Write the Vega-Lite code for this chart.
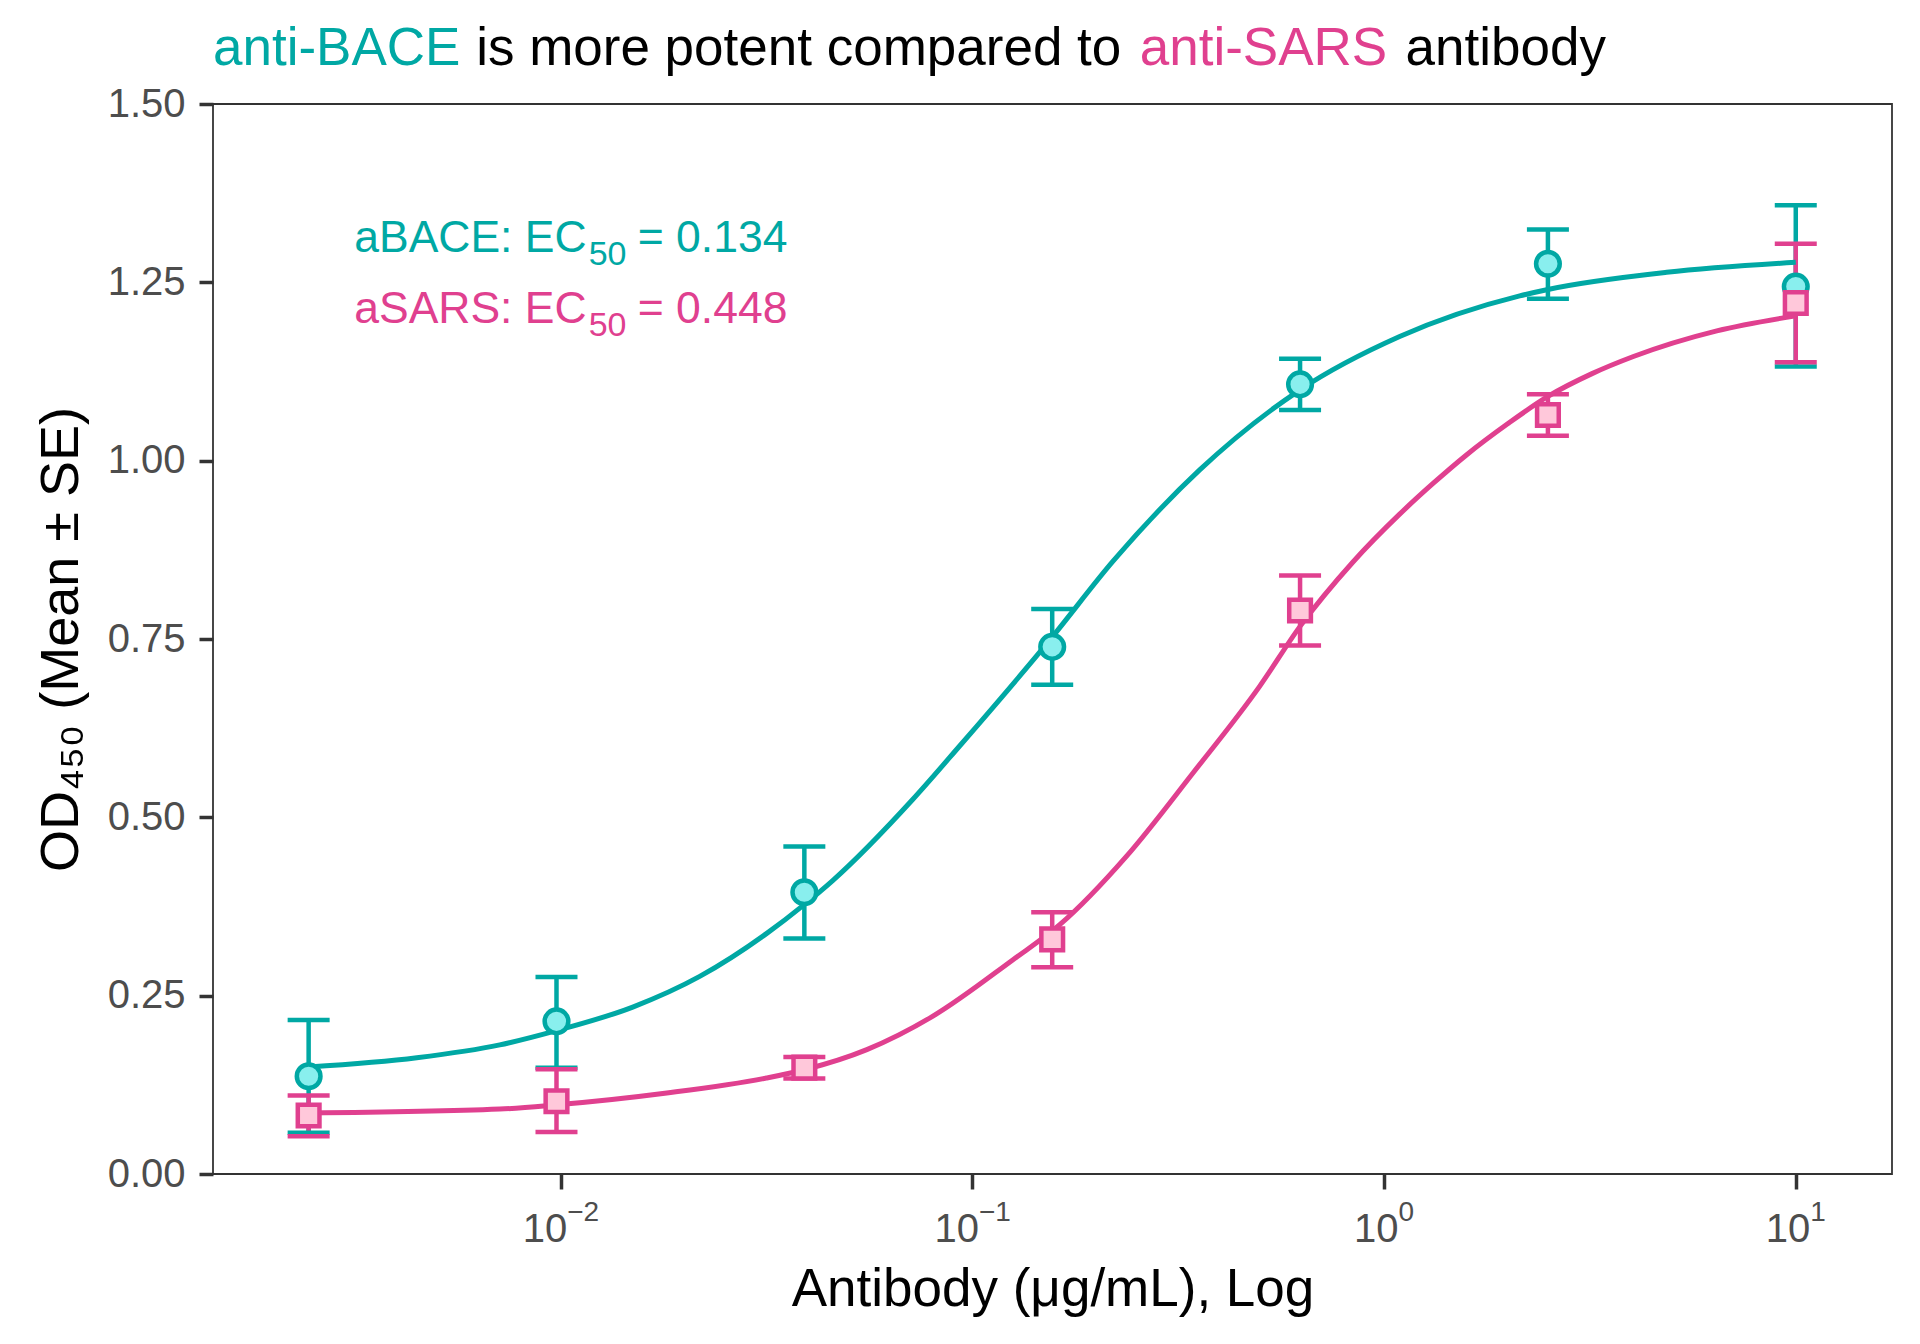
{
  "$schema": "https://vega.github.io/schema/vega-lite/v6.json",
  "width": 1679,
  "height": 1070,
  "autosize": "none",
  "padding": {"left": 213, "top": 104, "right": 28, "bottom": 170},
  "background": "white",
  "datasets": {
    "points": [
      {"conc": 0.00244140625, "antibody": "aBACE", "mean": 0.137, "lower": 0.058, "upper": 0.216},
      {"conc": 0.009765625, "antibody": "aBACE", "mean": 0.214, "lower": 0.149, "upper": 0.276},
      {"conc": 0.0390625, "antibody": "aBACE", "mean": 0.395, "lower": 0.330, "upper": 0.459},
      {"conc": 0.15625, "antibody": "aBACE", "mean": 0.739, "lower": 0.686, "upper": 0.792},
      {"conc": 0.625, "antibody": "aBACE", "mean": 1.107, "lower": 1.071, "upper": 1.143},
      {"conc": 2.5, "antibody": "aBACE", "mean": 1.276, "lower": 1.227, "upper": 1.324},
      {"conc": 10, "antibody": "aBACE", "mean": 1.244, "lower": 1.132, "upper": 1.358},
      {"conc": 0.00244140625, "antibody": "aSARS", "mean": 0.082, "lower": 0.053, "upper": 0.110},
      {"conc": 0.009765625, "antibody": "aSARS", "mean": 0.102, "lower": 0.059, "upper": 0.147},
      {"conc": 0.0390625, "antibody": "aSARS", "mean": 0.149, "lower": 0.134, "upper": 0.164},
      {"conc": 0.15625, "antibody": "aSARS", "mean": 0.329, "lower": 0.290, "upper": 0.367},
      {"conc": 0.625, "antibody": "aSARS", "mean": 0.790, "lower": 0.741, "upper": 0.839},
      {"conc": 2.5, "antibody": "aSARS", "mean": 1.064, "lower": 1.035, "upper": 1.093},
      {"conc": 10, "antibody": "aSARS", "mean": 1.221, "lower": 1.138, "upper": 1.304}
    ],
    "curves": [
      {"conc": 0.00244, "antibody": "aBACE", "od": 0.150},
      {"conc": 0.00447, "antibody": "aBACE", "od": 0.163},
      {"conc": 0.00711, "antibody": "aBACE", "od": 0.181},
      {"conc": 0.00977, "antibody": "aBACE", "od": 0.201},
      {"conc": 0.01496, "antibody": "aBACE", "od": 0.234},
      {"conc": 0.02176, "antibody": "aBACE", "od": 0.277},
      {"conc": 0.0316, "antibody": "aBACE", "od": 0.337},
      {"conc": 0.0391, "antibody": "aBACE", "od": 0.378},
      {"conc": 0.0457, "antibody": "aBACE", "od": 0.411},
      {"conc": 0.0716, "antibody": "aBACE", "od": 0.525},
      {"conc": 0.0931, "antibody": "aBACE", "od": 0.600},
      {"conc": 0.1564, "antibody": "aBACE", "od": 0.753},
      {"conc": 0.2196, "antibody": "aBACE", "od": 0.859},
      {"conc": 0.3565, "antibody": "aBACE", "od": 0.987},
      {"conc": 0.6237, "antibody": "aBACE", "od": 1.099},
      {"conc": 1.091, "antibody": "aBACE", "od": 1.174},
      {"conc": 2.135, "antibody": "aBACE", "od": 1.231},
      {"conc": 2.5, "antibody": "aBACE", "od": 1.240},
      {"conc": 4.857, "antibody": "aBACE", "od": 1.264},
      {"conc": 10, "antibody": "aBACE", "od": 1.278},
      {"conc": 0.00244, "antibody": "aSARS", "od": 0.0855},
      {"conc": 0.00711, "antibody": "aSARS", "od": 0.091},
      {"conc": 0.00977, "antibody": "aSARS", "od": 0.097},
      {"conc": 0.0181, "antibody": "aSARS", "od": 0.1136},
      {"conc": 0.0316, "antibody": "aSARS", "od": 0.1346},
      {"conc": 0.0391, "antibody": "aSARS", "od": 0.1462},
      {"conc": 0.0554, "antibody": "aSARS", "od": 0.1743},
      {"conc": 0.08, "antibody": "aSARS", "od": 0.2209},
      {"conc": 0.1255, "antibody": "aSARS", "od": 0.3004},
      {"conc": 0.163, "antibody": "aSARS", "od": 0.3495},
      {"conc": 0.2366, "antibody": "aSARS", "od": 0.4453},
      {"conc": 0.3434, "antibody": "aSARS", "od": 0.5622},
      {"conc": 0.4985, "antibody": "aSARS", "od": 0.6836},
      {"conc": 0.625, "antibody": "aSARS", "od": 0.7677},
      {"conc": 0.8403, "antibody": "aSARS", "od": 0.858},
      {"conc": 1.091, "antibody": "aSARS", "od": 0.925},
      {"conc": 1.315, "antibody": "aSARS", "od": 0.968},
      {"conc": 1.585, "antibody": "aSARS", "od": 1.008},
      {"conc": 2.0, "antibody": "aSARS", "od": 1.052},
      {"conc": 2.5, "antibody": "aSARS", "od": 1.090},
      {"conc": 3.2, "antibody": "aSARS", "od": 1.122},
      {"conc": 4.033, "antibody": "aSARS", "od": 1.146},
      {"conc": 6.43, "antibody": "aSARS", "od": 1.182},
      {"conc": 10, "antibody": "aSARS", "od": 1.203}
    ]
  },
  "encoding": {
    "x": {
      "type": "quantitative",
      "scale": {"type": "log", "domain": [0.00143, 17.13], "nice": false},
      "axis": null
    },
    "y": {
      "type": "quantitative",
      "scale": {"domain": [0, 1.5], "nice": false, "zero": false},
      "axis": {
        "values": [0, 0.25, 0.5, 0.75, 1, 1.25, 1.5],
        "format": ".2f",
        "tickSize": 14,
        "labelPadding": 14,
        "title": "OD₄₅₀ (Mean ± SE)",
        "titleFontSize": 54,
        "titleX": -136,
        "titleBaseline": "alphabetic"
      }
    }
  },
  "layer": [
    {
      "data": {"name": "points"},
      "mark": {"type": "rule", "strokeWidth": 4.5},
      "encoding": {
        "x": {
          "field": "conc",
          "axis": {
            "orient": "bottom",
            "values": [0.01, 0.1, 1, 10],
            "labelExpr": "'10'",
            "labelAlign": "right",
            "labelOffset": {"condition": {"test": "datum.value < 0.5", "value": 6}, "value": 14},
            "labelBaseline": "alphabetic",
            "labelFlush": false,
            "labelPadding": 52,
            "tickSize": 15,
            "title": "Antibody (μg/mL), Log",
            "titleY": 131.4,
            "titleBaseline": "alphabetic"
          }
        },
        "y": {"field": "lower"},
        "y2": {"field": "upper"},
        "color": {"field": "antibody", "type": "nominal", "scale": {"domain": ["aBACE", "aSARS"], "range": ["#00A8A4", "#E0408F"]}, "legend": null}
      }
    },
    {
      "data": {"name": "points"},
      "mark": {"type": "tick", "orient": "horizontal", "size": 42, "thickness": 4.5, "opacity": 1},
      "encoding": {
        "x": {
          "field": "conc",
          "axis": {
            "orient": "bottom",
            "values": [0.01, 0.1, 1, 10],
            "labelExpr": "datum.value < 0.05 ? '−2' : datum.value < 0.5 ? '−1' : datum.value < 5 ? '0' : '1'",
            "labelAlign": "left",
            "labelOffset": {"condition": {"test": "datum.value < 0.5", "value": 6}, "value": 14},
            "labelBaseline": "alphabetic",
            "labelFontSize": 28,
            "labelFlush": false,
            "labelPadding": 46,
            "ticks": false,
            "title": null
          }
        },
        "y": {"field": "lower"},
        "color": {"field": "antibody", "type": "nominal", "legend": null}
      }
    },
    {
      "data": {"name": "points"},
      "mark": {"type": "tick", "orient": "horizontal", "size": 42, "thickness": 4.5, "opacity": 1},
      "encoding": {
        "x": {"field": "conc"},
        "y": {"field": "upper"},
        "color": {"field": "antibody", "type": "nominal", "legend": null}
      }
    },
    {
      "data": {"name": "curves"},
      "mark": {"type": "line", "strokeWidth": 5, "interpolate": "monotone"},
      "encoding": {
        "x": {"field": "conc"},
        "y": {"field": "od"},
        "color": {"field": "antibody", "type": "nominal", "legend": null}
      }
    },
    {
      "data": {"name": "points"},
      "mark": {"type": "point", "strokeWidth": 4.5, "opacity": 1, "filled": false},
      "encoding": {
        "x": {"field": "conc"},
        "y": {"field": "mean"},
        "shape": {"field": "antibody", "type": "nominal", "scale": {"domain": ["aBACE", "aSARS"], "range": ["circle", "square"]}, "legend": null},
        "size": {"field": "antibody", "type": "nominal", "scale": {"domain": ["aBACE", "aSARS"], "range": [560, 470]}, "legend": null},
        "stroke": {"field": "antibody", "type": "nominal", "scale": {"domain": ["aBACE", "aSARS"], "range": ["#00A8A4", "#E0408F"]}, "legend": null},
        "fill": {"field": "antibody", "type": "nominal", "scale": {"domain": ["aBACE", "aSARS"], "range": ["#89EFEE", "#FFC8DA"]}, "legend": null}
      }
    },
    {
      "data": {"values": [{}]},
      "mark": {"type": "text", "align": "left", "baseline": "alphabetic", "fontSize": 44.5, "color": "#00A8A4"},
      "encoding": {"x": {"datum": 0.00315}, "y": {"datum": 1.2926}, "text": {"value": "aBACE: EC"}}
    },
    {
      "data": {"values": [{}]},
      "mark": {"type": "text", "align": "left", "baseline": "alphabetic", "fontSize": 34, "color": "#00A8A4"},
      "encoding": {"x": {"datum": 0.01169}, "y": {"datum": 1.2748}, "text": {"value": "50"}}
    },
    {
      "data": {"values": [{}]},
      "mark": {"type": "text", "align": "left", "baseline": "alphabetic", "fontSize": 44.5, "color": "#00A8A4"},
      "encoding": {"x": {"datum": 0.01538}, "y": {"datum": 1.2926}, "text": {"value": "= 0.134"}}
    },
    {
      "data": {"values": [{}]},
      "mark": {"type": "text", "align": "left", "baseline": "alphabetic", "fontSize": 44.5, "color": "#E0408F"},
      "encoding": {"x": {"datum": 0.00315}, "y": {"datum": 1.193}, "text": {"value": "aSARS: EC"}}
    },
    {
      "data": {"values": [{}]},
      "mark": {"type": "text", "align": "left", "baseline": "alphabetic", "fontSize": 34, "color": "#E0408F"},
      "encoding": {"x": {"datum": 0.01169}, "y": {"datum": 1.1752}, "text": {"value": "50"}}
    },
    {
      "data": {"values": [{}]},
      "mark": {"type": "text", "align": "left", "baseline": "alphabetic", "fontSize": 44.5, "color": "#E0408F"},
      "encoding": {"x": {"datum": 0.01538}, "y": {"datum": 1.193}, "text": {"value": "= 0.448"}}
    },
    {
      "data": {"values": [{}]},
      "mark": {"type": "text", "align": "left", "baseline": "alphabetic", "fontSize": 53, "color": "#00A8A4"},
      "encoding": {"x": {"datum": 0.00143}, "y": {"datum": 1.5552}, "text": {"value": "anti-BACE"}}
    },
    {
      "data": {"values": [{}]},
      "mark": {"type": "text", "align": "left", "baseline": "alphabetic", "fontSize": 53, "color": "black"},
      "encoding": {"x": {"datum": 0.00623}, "y": {"datum": 1.5552}, "text": {"value": "is more potent compared to"}}
    },
    {
      "data": {"values": [{}]},
      "mark": {"type": "text", "align": "left", "baseline": "alphabetic", "fontSize": 53, "color": "#E0408F"},
      "encoding": {"x": {"datum": 0.2549}, "y": {"datum": 1.5552}, "text": {"value": "anti-SARS"}}
    },
    {
      "data": {"values": [{}]},
      "mark": {"type": "text", "align": "left", "baseline": "alphabetic", "fontSize": 53, "color": "black"},
      "encoding": {"x": {"datum": 1.128}, "y": {"datum": 1.5552}, "text": {"value": "antibody"}}
    }
  ],
  "resolve": {"axis": {"x": "independent"}},
  "config": {
    "font": "Liberation Sans",
    "view": {"stroke": "#333333", "strokeWidth": 1.8},
    "axis": {
      "grid": false,
      "domain": false,
      "tickColor": "#333333",
      "tickWidth": 3.5,
      "labelFont": "Liberation Sans",
      "labelFontSize": 40,
      "labelColor": "#4D4D4D",
      "titleFont": "Liberation Sans",
      "titleFontSize": 53,
      "titleFontWeight": "normal",
      "titleColor": "black"
    }
  }
}
